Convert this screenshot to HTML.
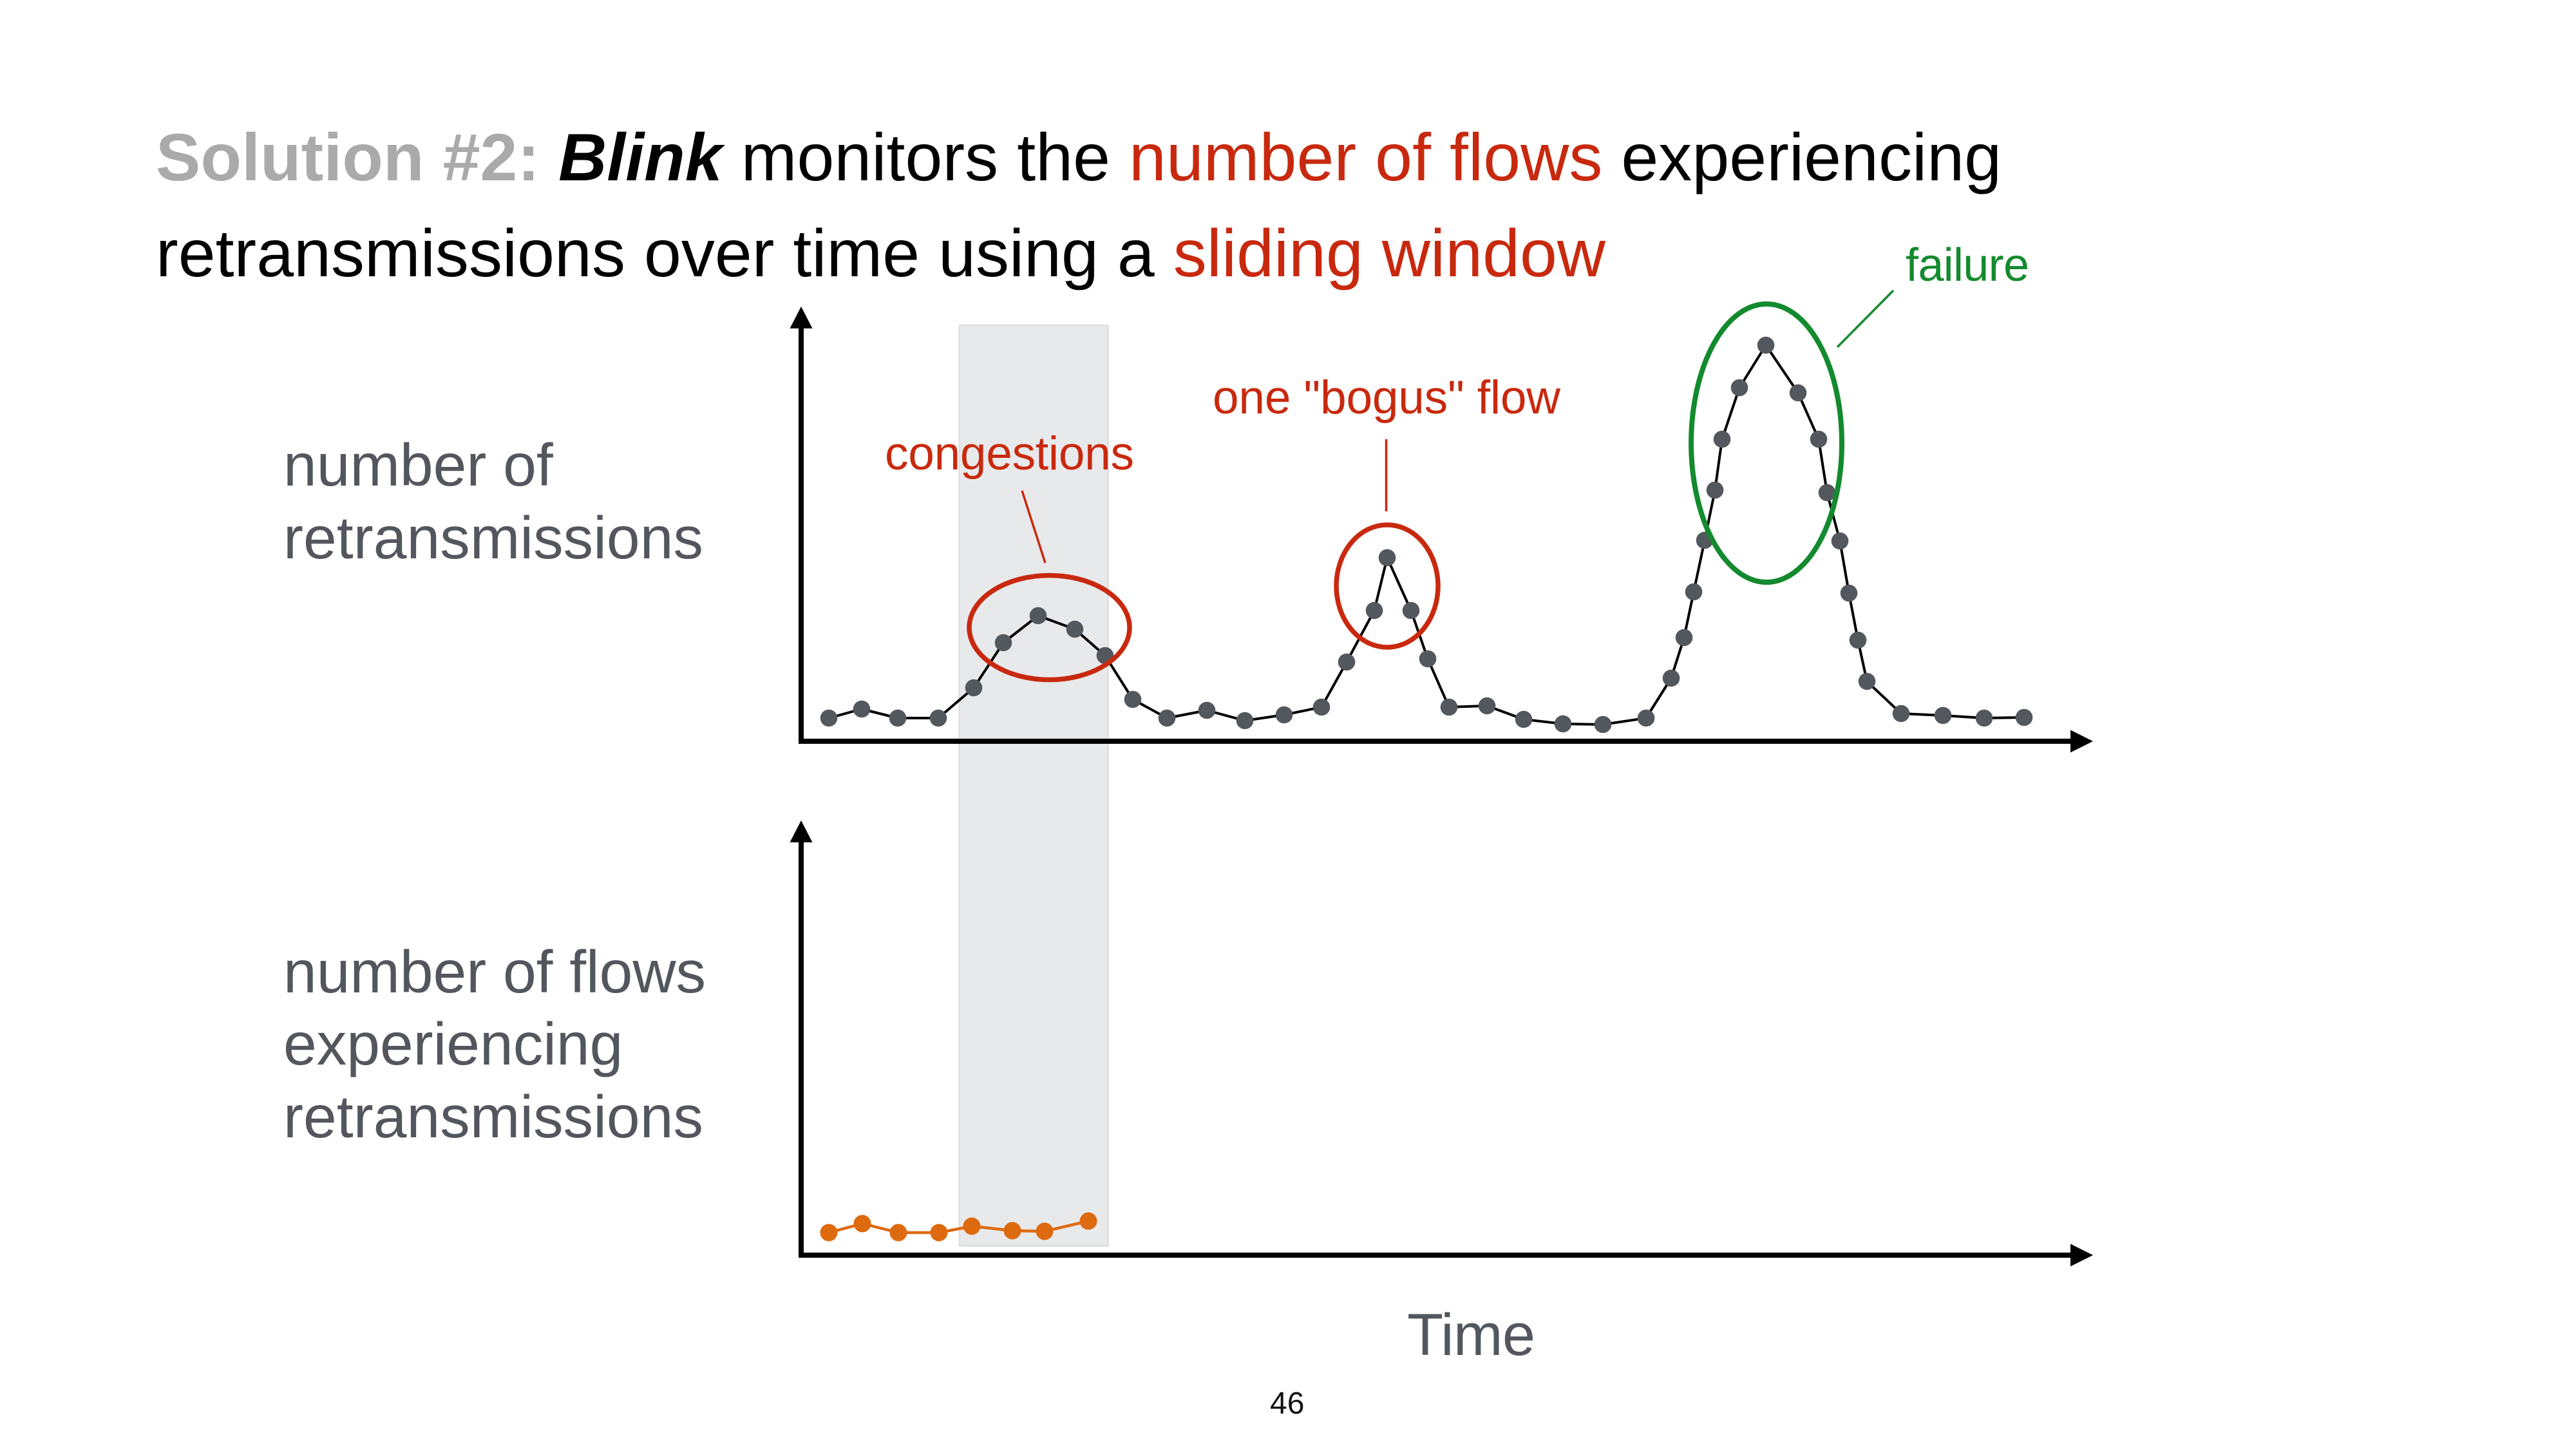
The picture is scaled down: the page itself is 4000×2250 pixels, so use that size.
<!DOCTYPE html>
<html>
<head>
<meta charset="utf-8">
<style>
html,body{margin:0;padding:0;background:#fff;}
svg{display:block;}
text{font-family:"Liberation Sans",Arial,sans-serif;}
</style>
</head>
<body>
<svg width="4000" height="2250" viewBox="0 0 4000 2250" xmlns="http://www.w3.org/2000/svg">
<rect x="0" y="0" width="4000" height="2250" fill="#ffffff"/>
<text x="242" y="280" font-size="104" textLength="2866" lengthAdjust="spacing" fill="#000"><tspan font-weight="bold" fill="#aaaaaa">Solution #2:</tspan> <tspan font-weight="bold" font-style="italic" fill="#000">Blink</tspan> monitors the <tspan fill="#c8290e">number of flows</tspan> experiencing</text>
<text x="242" y="429" font-size="104" textLength="2251" lengthAdjust="spacing" fill="#000">retransmissions over time using a <tspan fill="#c8290e">sliding window</tspan></text>
<g fill="#53575d" font-size="93">
<text x="440" y="754">number of</text>
<text x="440" y="867" textLength="652" lengthAdjust="spacing">retransmissions</text>
<text x="440" y="1541" textLength="656" lengthAdjust="spacing">number of flows</text>
<text x="440" y="1653">experiencing</text>
<text x="440" y="1766" textLength="652" lengthAdjust="spacing">retransmissions</text>
</g>
<rect x="1491" y="507" width="231" height="1429" fill="#d4d5d7" opacity="0.6"/>
<rect x="1489.5" y="505" width="231" height="1429" fill="#e8e9eb" stroke="#dcdde0" stroke-width="2"/>
<g stroke="#000" stroke-width="8" fill="none">
<line x1="1244" y1="1155" x2="1244" y2="505"/>
<line x1="1240" y1="1151" x2="3220" y2="1151"/>
<line x1="1244" y1="1953" x2="1244" y2="1303"/>
<line x1="1240" y1="1949" x2="3220" y2="1949"/>
</g>
<g fill="#000">
<polygon points="1244,476 1226.5,510 1261.5,510"/>
<polygon points="3250,1151 3215,1133.5 3215,1168.5"/>
<polygon points="1244,1274 1226.5,1308 1261.5,1308"/>
<polygon points="3250,1949 3215,1931.5 3215,1966.5"/>
</g>
<polyline fill="none" stroke="#000" stroke-width="4" stroke-linejoin="round" points="1287,1115 1338,1101 1394,1115 1457,1115 1512,1068 1558,998 1612,956 1669,977 1716,1018 1759,1086 1812,1115 1874,1103 1933,1119 1994,1110 2052,1098 2091,1028 2134,948 2154,866 2191,948 2217,1023 2250,1098 2309,1096 2366,1117 2427,1124 2489,1125 2556,1115 2595,1053 2615,990 2630,919 2647,839 2663,761 2674,682 2701,602 2742,536 2792,610 2824,682 2837,765 2857,840 2871,921 2885,994 2899,1058 2952,1108 3017,1111 3081,1115 3143,1114"/>
<g fill="#53585f">
<circle cx="1287" cy="1115" r="13.3"/>
<circle cx="1338" cy="1101" r="13.3"/>
<circle cx="1394" cy="1115" r="13.3"/>
<circle cx="1457" cy="1115" r="13.3"/>
<circle cx="1512" cy="1068" r="13.3"/>
<circle cx="1558" cy="998" r="13.3"/>
<circle cx="1612" cy="956" r="13.3"/>
<circle cx="1669" cy="977" r="13.3"/>
<circle cx="1716" cy="1018" r="13.3"/>
<circle cx="1759" cy="1086" r="13.3"/>
<circle cx="1812" cy="1115" r="13.3"/>
<circle cx="1874" cy="1103" r="13.3"/>
<circle cx="1933" cy="1119" r="13.3"/>
<circle cx="1994" cy="1110" r="13.3"/>
<circle cx="2052" cy="1098" r="13.3"/>
<circle cx="2091" cy="1028" r="13.3"/>
<circle cx="2134" cy="948" r="13.3"/>
<circle cx="2154" cy="866" r="13.3"/>
<circle cx="2191" cy="948" r="13.3"/>
<circle cx="2217" cy="1023" r="13.3"/>
<circle cx="2250" cy="1098" r="13.3"/>
<circle cx="2309" cy="1096" r="13.3"/>
<circle cx="2366" cy="1117" r="13.3"/>
<circle cx="2427" cy="1124" r="13.3"/>
<circle cx="2489" cy="1125" r="13.3"/>
<circle cx="2556" cy="1115" r="13.3"/>
<circle cx="2595" cy="1053" r="13.3"/>
<circle cx="2615" cy="990" r="13.3"/>
<circle cx="2630" cy="919" r="13.3"/>
<circle cx="2647" cy="839" r="13.3"/>
<circle cx="2663" cy="761" r="13.3"/>
<circle cx="2674" cy="682" r="13.3"/>
<circle cx="2701" cy="602" r="13.3"/>
<circle cx="2742" cy="536" r="13.3"/>
<circle cx="2792" cy="610" r="13.3"/>
<circle cx="2824" cy="682" r="13.3"/>
<circle cx="2837" cy="765" r="13.3"/>
<circle cx="2857" cy="840" r="13.3"/>
<circle cx="2871" cy="921" r="13.3"/>
<circle cx="2885" cy="994" r="13.3"/>
<circle cx="2899" cy="1058" r="13.3"/>
<circle cx="2952" cy="1108" r="13.3"/>
<circle cx="3017" cy="1111" r="13.3"/>
<circle cx="3081" cy="1115" r="13.3"/>
<circle cx="3143" cy="1114" r="13.3"/>
</g>
<polyline fill="none" stroke="#de6a10" stroke-width="4.5" stroke-linejoin="round" points="1287,1914 1339,1900 1395,1914 1458,1914 1509,1904 1572,1911 1622,1912 1690,1896"/>
<g fill="#de6a10">
<circle cx="1287" cy="1914" r="13.5"/>
<circle cx="1339" cy="1900" r="13.5"/>
<circle cx="1395" cy="1914" r="13.5"/>
<circle cx="1458" cy="1914" r="13.5"/>
<circle cx="1509" cy="1904" r="13.5"/>
<circle cx="1572" cy="1911" r="13.5"/>
<circle cx="1622" cy="1912" r="13.5"/>
<circle cx="1690" cy="1896" r="13.5"/>
</g>
<ellipse cx="1629.5" cy="974.5" rx="124.5" ry="81" fill="none" stroke="#c8290e" stroke-width="7.5"/>
<ellipse cx="2154" cy="910" rx="79" ry="95" fill="none" stroke="#c8290e" stroke-width="7.5"/>
<ellipse cx="2743" cy="688" rx="117" ry="216" fill="none" stroke="#138a2e" stroke-width="8"/>
<line x1="1587" y1="762" x2="1623" y2="874" stroke="#c8290e" stroke-width="3.5"/>
<line x1="2152.5" y1="682" x2="2152.5" y2="794" stroke="#c8290e" stroke-width="3.5"/>
<line x1="2940" y1="451" x2="2853" y2="539" stroke="#138a2e" stroke-width="3.5"/>
<text x="1374" y="729" font-size="73" fill="#c8290e" textLength="387" lengthAdjust="spacing">congestions</text>
<text x="1883" y="642" font-size="73" fill="#c8290e" textLength="540" lengthAdjust="spacing">one "bogus" flow</text>
<text x="2959" y="436" font-size="72" fill="#138a2e" textLength="192" lengthAdjust="spacing">failure</text>
<text x="2185" y="2104" font-size="92" fill="#53575d" textLength="199" lengthAdjust="spacing">Time</text>
<text x="1972" y="2195" font-size="48" fill="#111">46</text>
</svg>
</body>
</html>
